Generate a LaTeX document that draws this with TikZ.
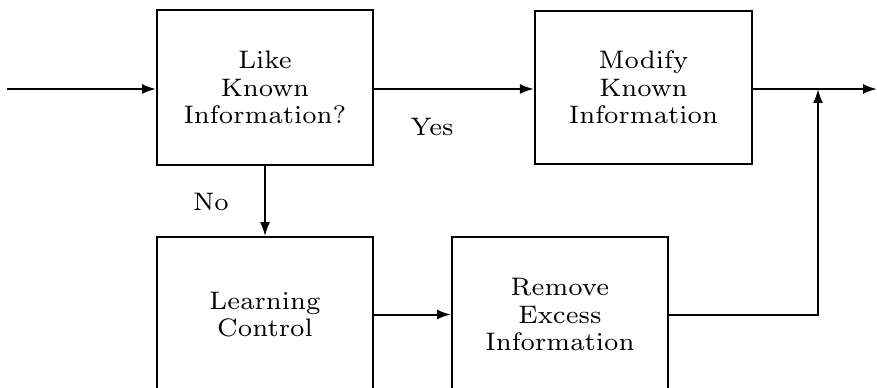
\documentclass[tikz,border=0pt]{standalone}
\usetikzlibrary{arrows.meta}
\font\boxfont=cmr7 at 19pt

\tikzset{
  block/.style={draw, line width=1.5, minimum width=162pt, minimum height=116pt, align=center, font={\boxfont\baselineskip=20.5pt}, inner sep=0pt},
  flow/.style={line width=1.5, -{Latex[length=10.5pt,width=7.5pt]}},
  plain/.style={line width=1.5},
  lbl/.style={font=\boxfont}
}

\begin{document}
\begin{tikzpicture}[x=0.75pt,y=0.75pt,yscale=-1,xscale=1]
\clip (0,0) rectangle (877,388);

% Blocks
\node [block] (like) at (265,87.5) {Like\\Known\\Information?};
\node [block, minimum width=163pt, minimum height=115pt] (modify) at (643.5,87.5) {Modify\\Known\\Information};
\node [block] (learn) at (265,314.5) {Learning\\Control};
\node [block] (remove) at (560,314.5) {Remove\\Excess\\Information};

% Free ends
\coordinate (in) at (7,89);
\coordinate (out) at (877,89);
\coordinate (junc) at (818,89);

% Connectors
\draw [flow] (in) -- (in -| like.west);
\draw [flow] (like.east |- in) -- (modify.west |- in);
\draw [flow] (like.south) -- (learn.north);
\draw [flow] (learn.east) -- (remove.west);
\draw [flow] (modify.east |- in) -- (out);
\draw [flow] (remove.east) -| (junc);

% Text Node
\node [lbl] (yes) at (432,127) {Yes};
% Text Node
\node [lbl] (no) at (211,202) {No};
\end{tikzpicture}
\end{document}
